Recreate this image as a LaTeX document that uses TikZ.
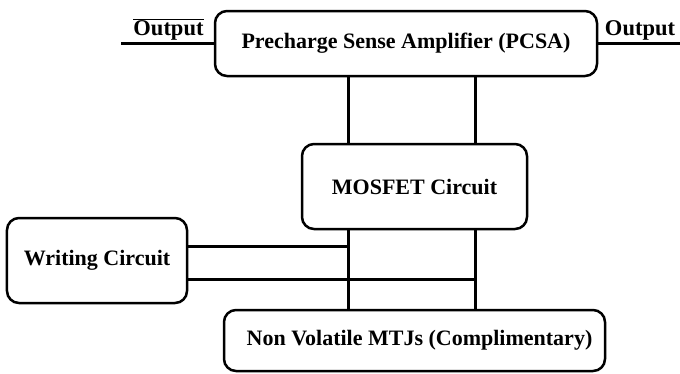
\documentclass[tikz,border=0pt]{standalone}
\usepackage{fontspec}
\setmainfont{Liberation Serif}
\begin{document}
\begin{tikzpicture}[x=1bp,y=-1bp,
  blk/.style={draw, line width=2.5bp, rounded corners=12bp, inner sep=0pt,
    font=\fontsize{22bp}{26bp}\selectfont\bfseries},
  wire/.style={line width=3bp},
  lbl/.style={inner sep=0pt, anchor=base, font=\fontsize{22.5bp}{26bp}\selectfont\bfseries}]
\useasboundingbox (0,0) rectangle (680,373);
\node[blk, minimum width=382bp, minimum height=65bp] (pcsa) at (406,43.5) {Precharge Sense Amplifier (PCSA)};
\node[blk, minimum width=225bp, minimum height=85bp] (mos) at (414.5,186.5) {MOSFET Circuit};
\node[blk, minimum width=180bp, minimum height=85bp] (wr) at (97,260.5) {Writing Circuit};
\node[blk, minimum width=381bp, minimum height=61bp] (nv) at (414.5,340.5) {\hspace*{10bp}Non Volatile MTJs (Complimentary)};
\coordinate (xa) at (348,0);
\coordinate (xb) at (475,0);
\coordinate (ya) at (0,246);
\coordinate (yb) at (0,279);
\coordinate (lo) at (121,43.5);
\coordinate (ro) at (680,43.5);
\node[lbl] (outbar) at (168.5,35) {$\overline{\mbox{Output}}$};
\node[lbl] (out) at (640,35) {Output};
\draw[wire] (lo) -- (pcsa.west);
\draw[wire] (pcsa.east) -- (ro);
\draw[wire] (pcsa.south -| xa) -- (mos.north -| xa);
\draw[wire] (pcsa.south -| xb) -- (mos.north -| xb);
\draw[wire] (mos.south -| xa) -- (nv.north -| xa);
\draw[wire] (mos.south -| xb) -- (nv.north -| xb);
\draw[wire] (wr.east |- ya) -- (xa |- ya);
\draw[wire] (wr.east |- yb) -- (xb |- yb);
\end{tikzpicture}
\end{document}
